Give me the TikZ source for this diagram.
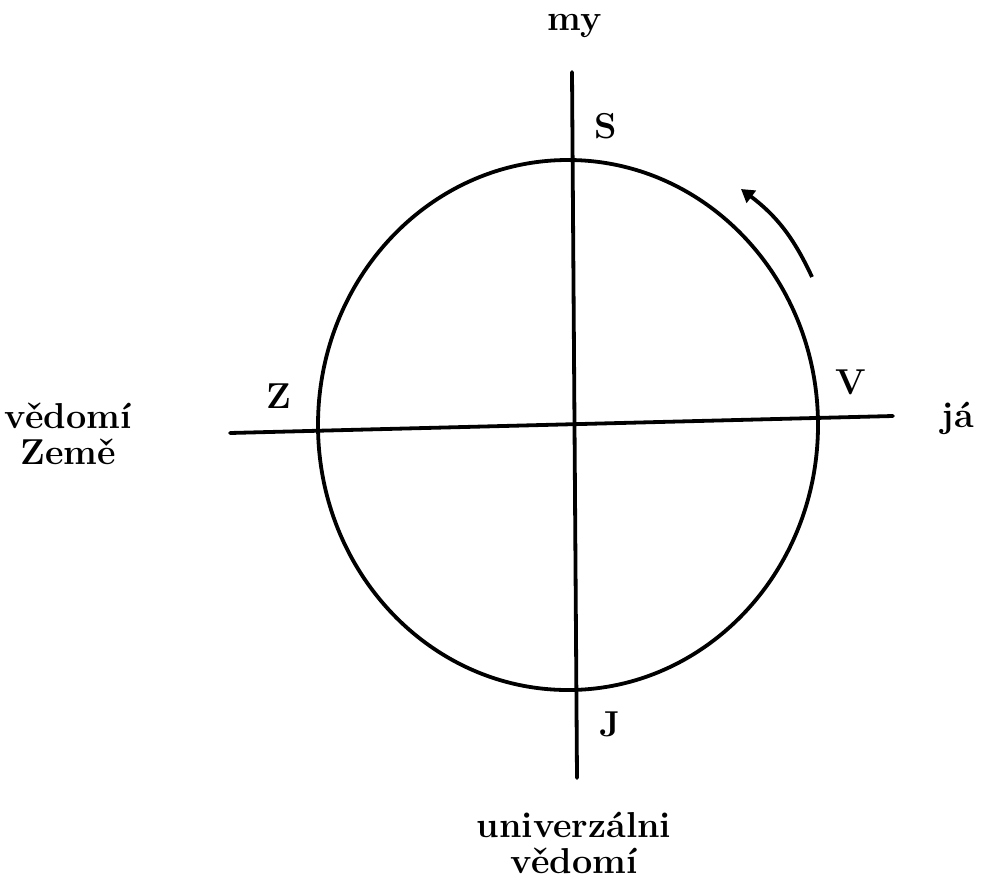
\documentclass[tikz,border=0pt]{standalone}
\usetikzlibrary{arrows.meta}
\begin{document}
\begin{tikzpicture}[x=1pt,y=-1pt,
  ln/.style={line width=3.8pt,line cap=round},
  lbl/.style={font=\fontsize{36}{40}\selectfont\bfseries, inner sep=0pt},
  txt/.style={font=\fontsize{36}{36}\selectfont\bfseries, inner sep=0pt, align=center}]
\useasboundingbox (0,0) rectangle (981,881);
\coordinate (vt) at (572,72);
\coordinate (vb) at (577,778);
\coordinate (hl) at (230,433);
\coordinate (hr) at (893,416);
\draw[ln] (568,425) ellipse [x radius=250, y radius=265];
\draw[ln] (vt) -- (vb);
\draw[ln] (hl) -- (hr);
\coordinate (a1) at (812,277);
\coordinate (a2) at (741,189);
\draw[line width=3.8pt, -{Triangle[length=13pt,width=15pt]}] (a1) to[bend right=14] (a2);
\node[lbl] (my) at (575,26) {my};
\node[lbl] (S) at (606,126) {S};
\node[lbl] (V) at (851,382) {V};
\node[lbl] (ja) at (958,418) {já};
\node[lbl] (Z) at (279,396) {Z};
\node[txt] (vz) at (68,434) {vědomí\\Země};
\node[lbl] (J) at (610,724) {J};
\node[txt] (uv) at (574,843) {univerzálni\\vědomí};
\end{tikzpicture}
\end{document}
